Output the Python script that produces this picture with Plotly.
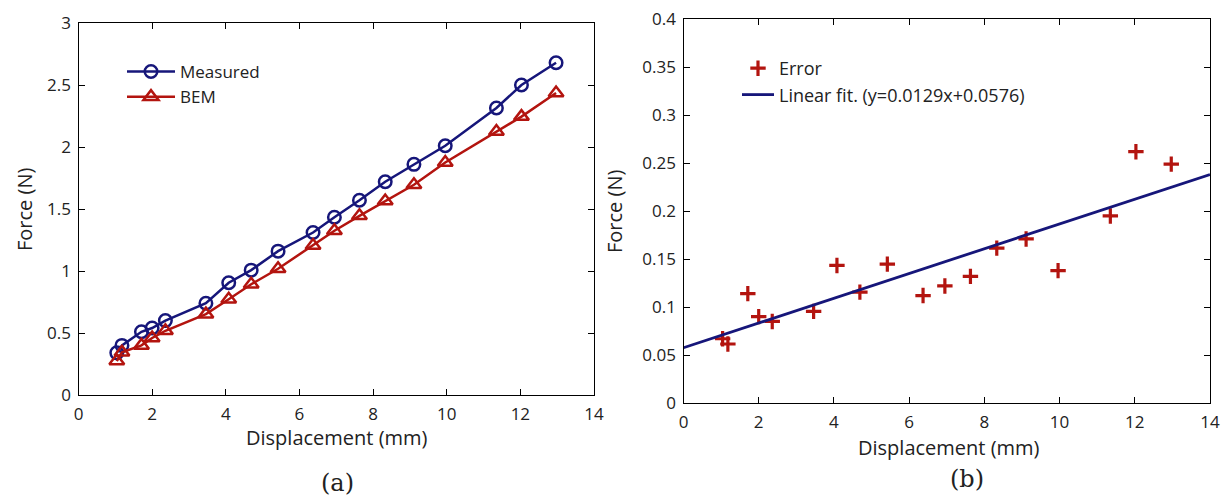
import plotly.graph_objects as go

# ---- data ----
disp = [1.04, 1.18, 1.71, 2.0, 2.36, 3.46, 4.08, 4.69, 5.42, 6.37, 6.95, 7.63, 8.33, 9.11, 9.96, 11.35, 12.03, 12.97]
measured = [0.34, 0.40, 0.51, 0.54, 0.60, 0.74, 0.905, 1.007, 1.16, 1.31, 1.434, 1.57, 1.72, 1.86, 2.01, 2.315, 2.50, 2.68]
bem = [0.274, 0.345, 0.40, 0.46, 0.518, 0.652, 0.772, 0.893, 1.018, 1.205, 1.325, 1.445, 1.565, 1.695, 1.875, 2.125, 2.245, 2.435]
error = [0.067, 0.0615, 0.114, 0.090, 0.085, 0.0955, 0.1434, 0.1156, 0.1448, 0.112, 0.122, 0.132, 0.1615, 0.171, 0.138, 0.195, 0.262, 0.249]
fit_slope = 0.0129
fit_intercept = 0.0576
fit_x = [0, 14]
fit_y = [fit_slope * x + fit_intercept for x in fit_x]

x_ticks = [0, 2, 4, 6, 8, 10, 12, 14]
y_ticks_a = [0, 0.5, 1, 1.5, 2, 2.5, 3]
y_ticks_a_text = ["0", "0.5", "1", "1.5", "2", "2.5", "3"]
y_ticks_b = [0, 0.05, 0.1, 0.15, 0.2, 0.25, 0.3, 0.35, 0.4]
y_ticks_b_text = ["0", "0.05", "0.1", "0.15", "0.2", "0.25", "0.3", "0.35", "0.4"]

BLUE = "#16167a"
RED = "#b3140f"
FONT = "Open Sans"
W, H = 1223, 497


def px(x):
    """screen x pixel -> paper fraction"""
    return x / W


def py(y):
    """screen y pixel -> paper fraction"""
    return 1 - y / H


fig = go.Figure()

fig.add_trace(go.Scatter(
    x=disp, y=measured, name="Measured", mode="lines+markers",
    line=dict(color=BLUE, width=2.5),
    marker=dict(symbol="circle-open", size=12.5, color=BLUE, line=dict(width=2.5, color=BLUE)),
    xaxis="x", yaxis="y", legend="legend"))
fig.add_trace(go.Scatter(
    x=disp, y=bem, name="BEM", mode="lines+markers",
    line=dict(color=RED, width=2.5),
    marker=dict(symbol="triangle-up-open", size=13, color=RED, line=dict(width=2.5, color=RED)),
    xaxis="x", yaxis="y", legend="legend"))

fig.add_trace(go.Scatter(
    x=disp, y=error, name="Error", mode="markers",
    marker=dict(symbol="cross-thin", size=11, color=RED, line=dict(width=3.2, color=RED)),
    xaxis="x2", yaxis="y2", legend="legend2"))
fig.add_trace(go.Scatter(
    x=fit_x, y=fit_y, name="Linear fit. (y=0.0129x+0.0576)", mode="lines",
    line=dict(color=BLUE, width=2.8),
    xaxis="x2", yaxis="y2", legend="legend2"))

axis_common = dict(
    showline=True, linecolor="black", linewidth=1.2, mirror="ticks",
    ticks="inside", ticklen=6, tickwidth=1.2, tickcolor="black",
    showgrid=False, zeroline=False, automargin=False, ticklabelstandoff=3,
    ticklabeloverflow="allow",
    tickfont=dict(family=FONT, size=17, color="#222"),
)

fig.update_layout(
    width=W, height=H,
    margin=dict(l=0, r=0, t=0, b=0, autoexpand=False),
    paper_bgcolor="white", plot_bgcolor="white",
    showlegend=True,
    xaxis=dict(domain=[px(78.5), px(594)], range=[0, 14], tickvals=x_ticks, anchor="y", **axis_common),
    yaxis=dict(domain=[py(395), py(23)], range=[0, 3], tickvals=y_ticks_a, ticktext=y_ticks_a_text, anchor="x", **axis_common),
    xaxis2=dict(domain=[px(683.5), px(1210)], range=[0, 14], tickvals=x_ticks, anchor="y2", **axis_common),
    yaxis2=dict(domain=[py(403), py(19.3)], range=[0, 0.4], tickvals=y_ticks_b, ticktext=y_ticks_b_text, anchor="x2", **axis_common),
    legend=dict(x=px(122), y=py(54), xanchor="left", yanchor="top", bgcolor="rgba(0,0,0,0)",
                borderwidth=0, font=dict(family=FONT, size=17, color="#222"), tracegroupgap=0,
                itemwidth=48),
    legend2=dict(x=px(737), y=py(50), xanchor="left", yanchor="top", bgcolor="rgba(0,0,0,0)",
                 borderwidth=0, font=dict(family=FONT, size=18, color="#222"), tracegroupgap=0,
                 itemwidth=32),
)

annots = [
    dict(text="Displacement (mm)", x=px(337), y=py(437), size=20, family=FONT, angle=0),
    dict(text="Displacement (mm)", x=px(949), y=py(447), size=20, family=FONT, angle=0),
    dict(text="Force (N)", x=px(24), y=py(210), size=20, family=FONT, angle=-90),
    dict(text="Force (N)", x=px(614), y=py(212), size=20, family=FONT, angle=-90),
    dict(text="(a)", x=px(337), y=py(483), size=24, family="DejaVu Serif", angle=0),
    dict(text="(b)", x=px(967), y=py(479), size=24, family="DejaVu Serif", angle=0),
]
for a in annots:
    fig.add_annotation(text=a["text"], x=a["x"], y=a["y"], xref="paper", yref="paper",
                       xanchor="center", yanchor="middle", showarrow=False, textangle=a["angle"],
                       font=dict(family=a["family"], size=a["size"], color="#222"))

fig.write_html(
    "out.html",
    config={"displayModeBar": False},
    post_script="document.body.style.margin='0';document.body.style.overflow='hidden';",
)
